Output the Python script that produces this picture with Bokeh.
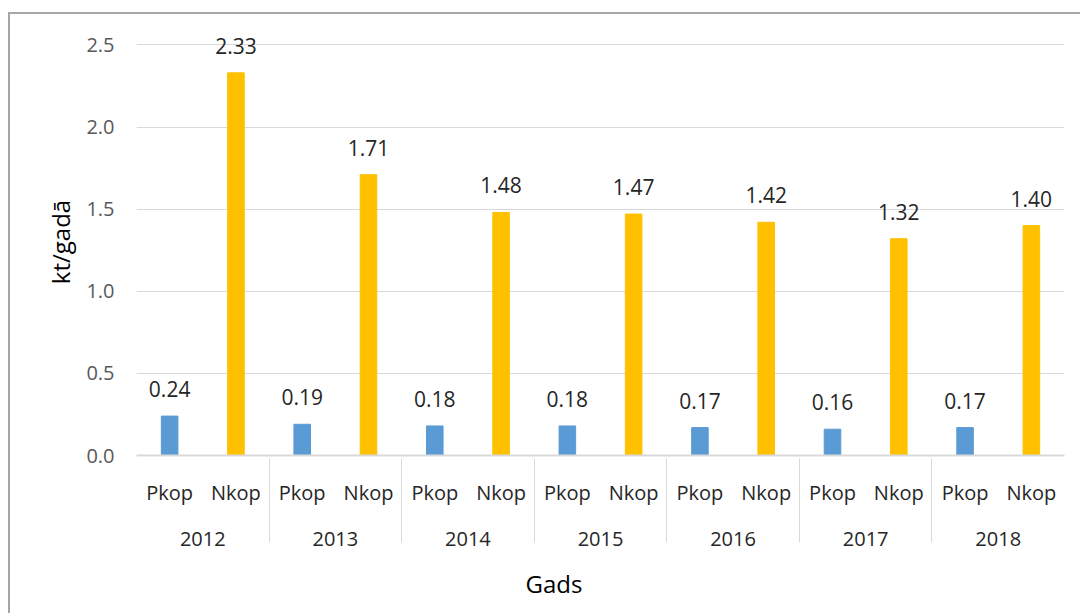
from bokeh.plotting import figure
from bokeh.models import FactorRange, ColumnDataSource, LabelSet, Range1d, FixedTicker, PrintfTickFormatter, Title
from bokeh.embed import file_html
from bokeh.resources import INLINE
from bokeh.core.properties import value

years = ["2012", "2013", "2014", "2015", "2016", "2017", "2018"]
series = ["Pkop", "Nkop"]
pkop = [0.24, 0.19, 0.18, 0.18, 0.17, 0.16, 0.17]
nkop = [2.33, 1.71, 1.48, 1.47, 1.42, 1.32, 1.40]
colors = {"Pkop": "#5B9BD5", "Nkop": "#FFC000"}
y_ticks = [0.0, 0.5, 1.0, 1.5, 2.0, 2.5]

FONT = "Open Sans"

x = []
vals = []
cols = []
for i, yr in enumerate(years):
    for s, v in zip(series, (pkop[i], nkop[i])):
        x.append((yr, s))
        vals.append(v)
        cols.append(colors[s])
src = ColumnDataSource(dict(x=x, v=vals, c=cols, t=["%.2f" % v for v in vals]))

xr = FactorRange(*x, range_padding=0, group_padding=0, factor_padding=0)
p = figure(x_range=xr, y_range=Range1d(0, 2.6), width=1072, height=601,
           output_backend="svg", toolbar_location=None,
           min_border_left=126, min_border_right=18, min_border_top=14, min_border_bottom=160)
p.margin = (12, 0, 0, 8)
p.vbar(x="x", top="v", width=0.25, color="c", source=src)

labels = LabelSet(x="x", y="v", text="t", source=src, text_align="center", text_baseline="middle",
                  y_offset=27, text_font=value(FONT), text_font_size="21px", text_color="#262626")
p.add_layout(labels)

p.outline_line_color = None
p.xgrid.grid_line_color = None
p.ygrid.grid_line_color = "#D9D9D9"
p.ygrid.grid_line_width = 1
p.yaxis.ticker = FixedTicker(ticks=y_ticks)
p.yaxis.formatter = PrintfTickFormatter(format="%.1f")
p.yaxis.axis_line_color = None
p.yaxis.major_tick_line_color = None
p.yaxis.minor_tick_line_color = None
p.yaxis.major_label_text_font = FONT
p.yaxis.major_label_text_font_size = "20px"
p.yaxis.major_label_text_color = "#595959"
p.yaxis.major_label_standoff = 16
p.yaxis.axis_label = "kt/gadā"
p.yaxis.axis_label_text_font = FONT
p.yaxis.axis_label_text_font_size = "24px"
p.yaxis.axis_label_text_font_style = "normal"
p.yaxis.axis_label_text_color = "#000000"
p.yaxis.axis_label_standoff = 6

p.xaxis.axis_line_color = "#D9D9D9"
p.xaxis.axis_line_width = 2
p.xaxis.major_tick_line_color = None
p.xaxis.major_tick_out = -14
p.xaxis.major_tick_in = 0
p.xaxis.major_label_text_font = FONT
p.xaxis.major_label_text_font_size = "20px"
p.xaxis.major_label_text_color = "#262626"
p.xaxis.major_label_standoff = 23
p.xaxis.group_text_font = FONT
p.xaxis.group_text_font_size = "20px"
p.xaxis.group_text_color = "#262626"
p.xaxis.group_text_font_style = "normal"
p.xaxis.separator_line_color = "#D9D9D9"
p.xaxis.separator_line_width = 1

p.add_layout(Title(text="Gads", align="left", offset=389, standoff=32, text_font=FONT,
                   text_font_size="24px", text_font_style="normal", text_color="#000000"), "below")

p.styles = {"border-top": "2px solid #A6A6A6", "border-left": "2px solid #A6A6A6"}

open("out.html", "w").write(file_html(p, INLINE))
